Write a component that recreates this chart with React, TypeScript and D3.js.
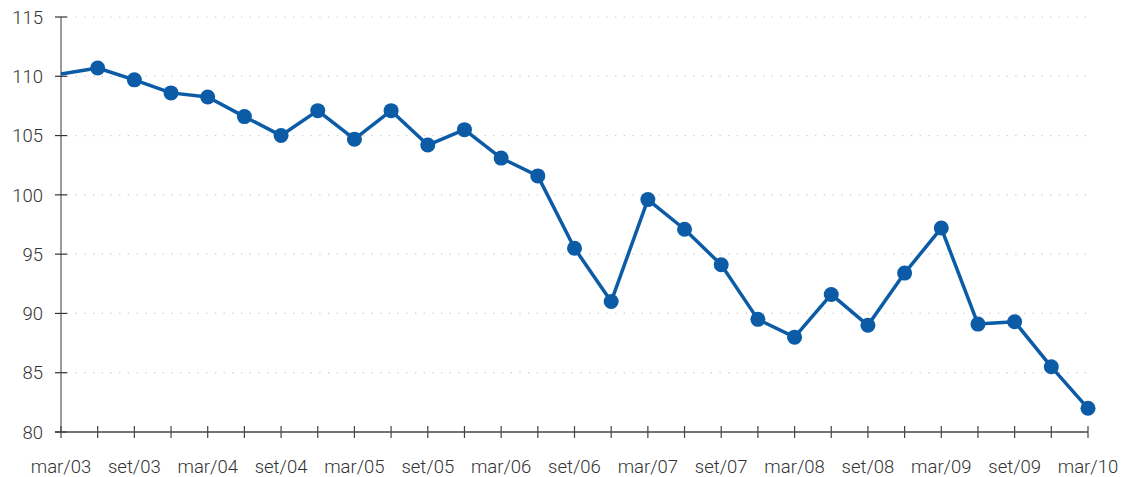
import React, { useEffect, useRef } from 'react';
import * as d3 from 'd3';

// quarterly index values, mar/03 .. mar/10
const periods = [
  'mar/03', 'jun/03', 'set/03', 'dez/03',
  'mar/04', 'jun/04', 'set/04', 'dez/04',
  'mar/05', 'jun/05', 'set/05', 'dez/05',
  'mar/06', 'jun/06', 'set/06', 'dez/06',
  'mar/07', 'jun/07', 'set/07', 'dez/07',
  'mar/08', 'jun/08', 'set/08', 'dez/08',
  'mar/09', 'jun/09', 'set/09', 'dez/09',
  'mar/10'
];
const values = [
  110.2, 110.7, 109.7, 108.6,
  108.25, 106.6, 105.0, 107.1,
  104.7, 107.1, 104.2, 105.5,
  103.1, 101.6, 95.5, 91.0,
  99.6, 97.1, 94.1, 89.5,
  88.0, 91.6, 89.0, 93.4,
  97.2, 89.1, 89.3, 85.5,
  82.0
];
const yTicks = [80, 85, 90, 95, 100, 105, 110, 115];

const W = 1122;
const H = 477;
const BLUE = '#0b5ba6';

export default function App() {
  const ref = useRef<SVGSVGElement>(null);

  useEffect(() => {
    const svg = d3.select(ref.current);
    svg.selectAll('*').remove();

    const x = d3.scaleLinear().domain([0, periods.length - 1]).range([61, 1088]);
    const y = d3.scaleLinear().domain([80, 115]).range([432, 17]);

    const font = 'Roboto, "Liberation Sans", sans-serif';

    // dotted grid
    svg.append('g')
      .selectAll('line')
      .data(yTicks.filter(t => t !== 80))
      .enter().append('line')
      .attr('x1', 67).attr('x2', 1090)
      .attr('y1', d => y(d)).attr('y2', d => y(d))
      .attr('stroke', '#c8c8c8')
      .attr('stroke-width', 1.2)
      .attr('stroke-dasharray', '1.2,7.5');

    // y axis
    svg.append('line')
      .attr('x1', 61).attr('x2', 61)
      .attr('y1', y(115)).attr('y2', y(80))
      .attr('stroke', '#7a7a7a').attr('stroke-width', 1.5);

    svg.append('g')
      .selectAll('line')
      .data(yTicks)
      .enter().append('line')
      .attr('x1', 55).attr('x2', 67)
      .attr('y1', d => y(d)).attr('y2', d => y(d))
      .attr('stroke', '#333').attr('stroke-width', 1.2);

    svg.append('g')
      .selectAll('text')
      .data(yTicks)
      .enter().append('text')
      .attr('x', 43)
      .attr('y', d => y(d))
      .attr('dy', '0.36em')
      .attr('text-anchor', 'end')
      .attr('font-family', font)
      .attr('font-weight', 300)
      .attr('font-size', 18.5)
      .attr('fill', '#333')
      .text(d => d);

    // x axis
    svg.append('line')
      .attr('x1', 55).attr('x2', 1088)
      .attr('y1', y(80)).attr('y2', y(80))
      .attr('stroke', '#444').attr('stroke-width', 1.5);

    svg.append('g')
      .selectAll('line')
      .data(periods)
      .enter().append('line')
      .attr('x1', (d, i) => x(i)).attr('x2', (d, i) => x(i))
      .attr('y1', 426).attr('y2', 438)
      .attr('stroke', '#444').attr('stroke-width', 1.2);

    svg.append('g')
      .selectAll('text')
      .data(periods.filter((d, i) => i % 2 === 0))
      .enter().append('text')
      .attr('x', (d, i) => x(i * 2))
      .attr('y', 473)
      .attr('text-anchor', 'middle')
      .attr('font-family', font)
      .attr('font-weight', 300)
      .attr('font-size', 18.5)
      .attr('fill', '#333')
      .text(d => d);

    // line + markers
    const line = d3.line<number>()
      .x((d, i) => x(i))
      .y(d => y(d));

    svg.append('path')
      .datum(values)
      .attr('d', line)
      .attr('fill', 'none')
      .attr('stroke', BLUE)
      .attr('stroke-width', 3.5)
      .attr('stroke-linejoin', 'round');

    svg.append('g')
      .selectAll('circle')
      .data(values.slice(1))
      .enter().append('circle')
      .attr('cx', (d, i) => x(i + 1))
      .attr('cy', d => y(d))
      .attr('r', 7.5)
      .attr('fill', BLUE);
  }, []);

  return (
    <svg
      ref={ref}
      width={W}
      height={H}
      style={{ position: 'absolute', left: 0, top: 0, background: '#fff' }}
    />
  );
}
